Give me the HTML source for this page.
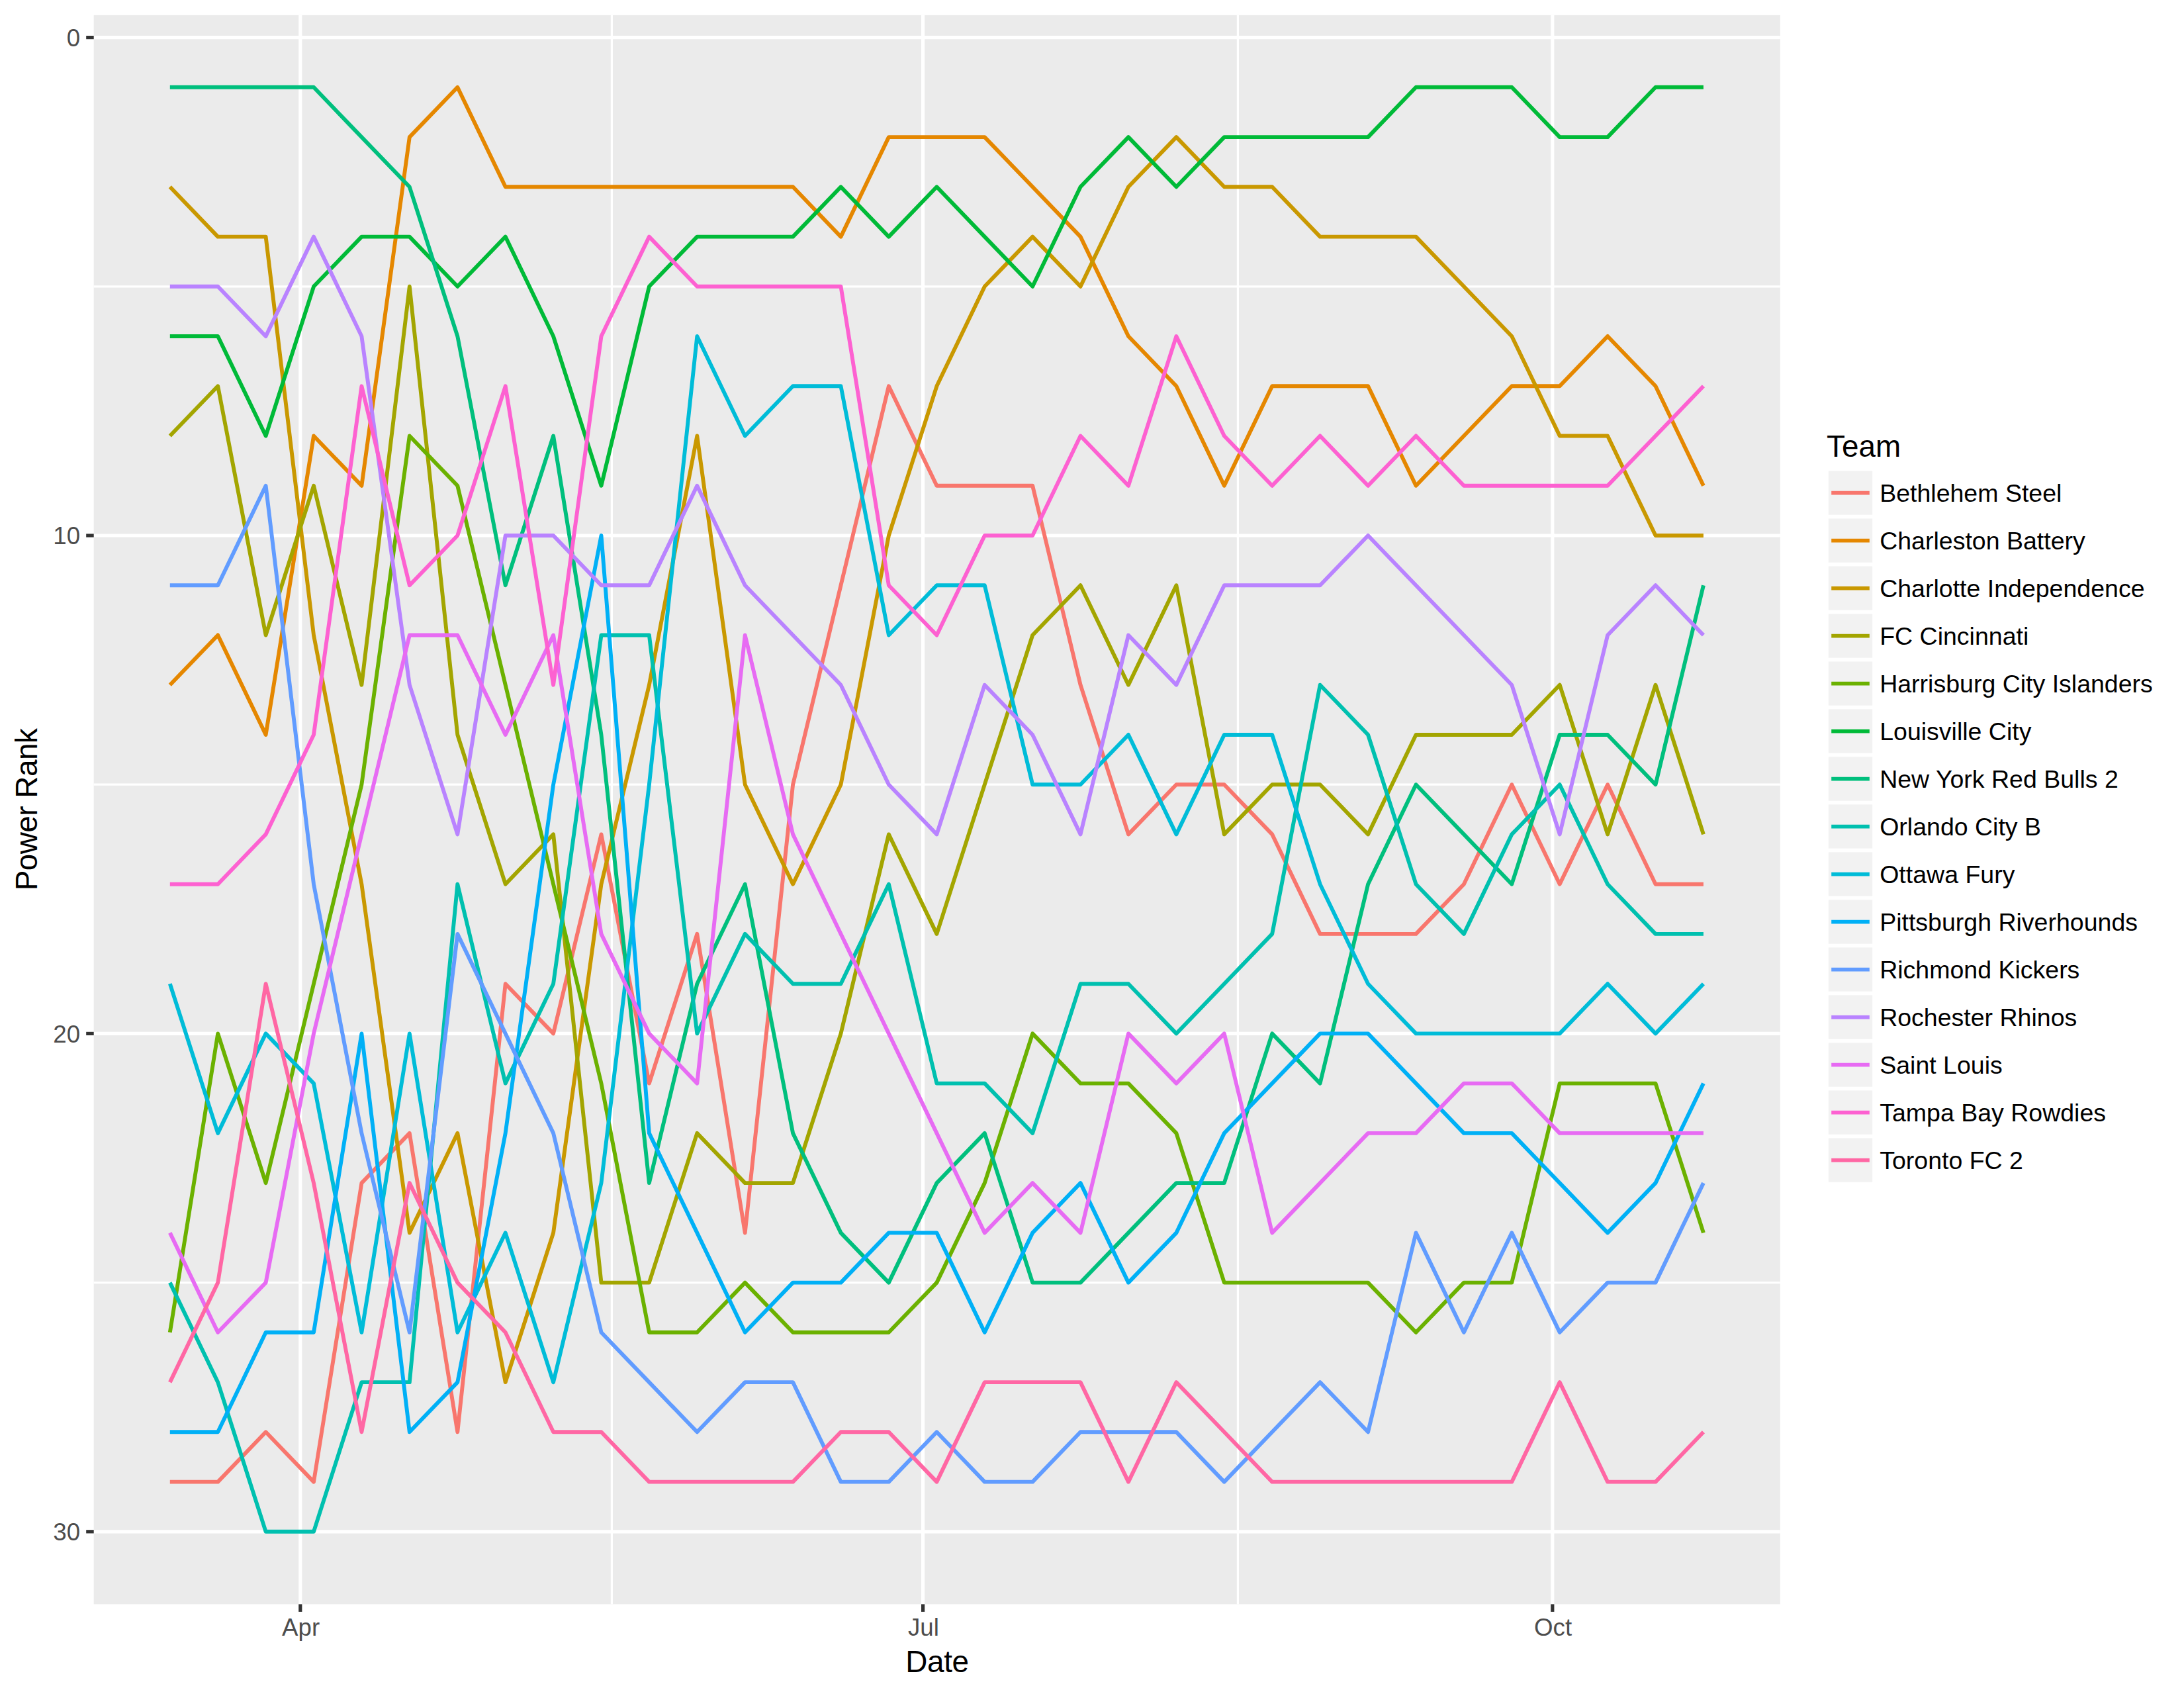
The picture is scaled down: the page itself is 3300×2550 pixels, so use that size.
<!DOCTYPE html>
<html><head><meta charset="utf-8"><title>Power Rank</title>
<style>html,body{margin:0;padding:0;background:#fff}svg{display:block}</style></head>
<body>
<svg width="3300" height="2550" viewBox="0 0 3300 2550" font-family='"Liberation Sans", Arial, Helvetica, sans-serif'>
<rect width="3300" height="2550" fill="#fff"/>
<rect x="141.7" y="22.9" width="2548.2" height="2400.5" fill="#EBEBEB"/>
<g stroke="#fff" stroke-width="3.2">
<line x1="141.7" x2="2689.9" y1="432.80" y2="432.80"/>
<line x1="141.7" x2="2689.9" y1="1185.20" y2="1185.20"/>
<line x1="141.7" x2="2689.9" y1="1937.60" y2="1937.60"/>
<line x1="924.4" x2="924.4" y1="22.9" y2="2423.4"/>
<line x1="1870.4" x2="1870.4" y1="22.9" y2="2423.4"/>
</g>
<g stroke="#fff" stroke-width="5.2">
<line x1="141.7" x2="2689.9" y1="56.60" y2="56.60"/>
<line x1="141.7" x2="2689.9" y1="809.00" y2="809.00"/>
<line x1="141.7" x2="2689.9" y1="1561.40" y2="1561.40"/>
<line x1="141.7" x2="2689.9" y1="2313.80" y2="2313.80"/>
<line x1="453.8" x2="453.8" y1="22.9" y2="2423.4"/>
<line x1="1394.6" x2="1394.6" y1="22.9" y2="2423.4"/>
<line x1="2345.8" x2="2345.8" y1="22.9" y2="2423.4"/>
</g>
<g fill="none" stroke-width="5.9" stroke-linejoin="round" stroke-linecap="butt">
<polyline stroke="#F8766D" points="256.8,2238.6 329.2,2238.6 401.6,2163.3 474.0,2238.6 546.4,1787.1 618.8,1711.9 691.3,2163.3 763.7,1486.2 836.1,1561.4 908.5,1260.4 980.9,1636.6 1053.3,1410.9 1125.7,1862.4 1198.1,1185.2 1270.5,884.2 1342.9,583.3 1415.4,733.8 1487.8,733.8 1560.2,733.8 1632.6,1034.7 1705.0,1260.4 1777.4,1185.2 1849.8,1185.2 1922.2,1260.4 1994.6,1410.9 2067.1,1410.9 2139.5,1410.9 2211.9,1335.7 2284.3,1185.2 2356.7,1335.7 2429.1,1185.2 2501.5,1335.7 2573.9,1335.7"/>
<polyline stroke="#E58700" points="256.8,1034.7 329.2,959.5 401.6,1110.0 474.0,658.5 546.4,733.8 618.8,207.1 691.3,131.8 763.7,282.3 836.1,282.3 908.5,282.3 980.9,282.3 1053.3,282.3 1125.7,282.3 1198.1,282.3 1270.5,357.6 1342.9,207.1 1415.4,207.1 1487.8,207.1 1560.2,282.3 1632.6,357.6 1705.0,508.0 1777.4,583.3 1849.8,733.8 1922.2,583.3 1994.6,583.3 2067.1,583.3 2139.5,733.8 2211.9,658.5 2284.3,583.3 2356.7,583.3 2429.1,508.0 2501.5,583.3 2573.9,733.8"/>
<polyline stroke="#C99800" points="256.8,282.3 329.2,357.6 401.6,357.6 474.0,959.5 546.4,1335.7 618.8,1862.4 691.3,1711.9 763.7,2088.1 836.1,1862.4 908.5,1335.7 980.9,1034.7 1053.3,658.5 1125.7,1185.2 1198.1,1335.7 1270.5,1185.2 1342.9,809.0 1415.4,583.3 1487.8,432.8 1560.2,357.6 1632.6,432.8 1705.0,282.3 1777.4,207.1 1849.8,282.3 1922.2,282.3 1994.6,357.6 2067.1,357.6 2139.5,357.6 2211.9,432.8 2284.3,508.0 2356.7,658.5 2429.1,658.5 2501.5,809.0 2573.9,809.0"/>
<polyline stroke="#A3A500" points="256.8,658.5 329.2,583.3 401.6,959.5 474.0,733.8 546.4,1034.7 618.8,432.8 691.3,1110.0 763.7,1335.7 836.1,1260.4 908.5,1937.6 980.9,1937.6 1053.3,1711.9 1125.7,1787.1 1198.1,1787.1 1270.5,1561.4 1342.9,1260.4 1415.4,1410.9 1487.8,1185.2 1560.2,959.5 1632.6,884.2 1705.0,1034.7 1777.4,884.2 1849.8,1260.4 1922.2,1185.2 1994.6,1185.2 2067.1,1260.4 2139.5,1110.0 2211.9,1110.0 2284.3,1110.0 2356.7,1034.7 2429.1,1260.4 2501.5,1034.7 2573.9,1260.4"/>
<polyline stroke="#6BB100" points="256.8,2012.8 329.2,1561.4 401.6,1787.1 474.0,1486.2 546.4,1185.2 618.8,658.5 691.3,733.8 763.7,1034.7 836.1,1335.7 908.5,1636.6 980.9,2012.8 1053.3,2012.8 1125.7,1937.6 1198.1,2012.8 1270.5,2012.8 1342.9,2012.8 1415.4,1937.6 1487.8,1787.1 1560.2,1561.4 1632.6,1636.6 1705.0,1636.6 1777.4,1711.9 1849.8,1937.6 1922.2,1937.6 1994.6,1937.6 2067.1,1937.6 2139.5,2012.8 2211.9,1937.6 2284.3,1937.6 2356.7,1636.6 2429.1,1636.6 2501.5,1636.6 2573.9,1862.4"/>
<polyline stroke="#00BA38" points="256.8,508.0 329.2,508.0 401.6,658.5 474.0,432.8 546.4,357.6 618.8,357.6 691.3,432.8 763.7,357.6 836.1,508.0 908.5,733.8 980.9,432.8 1053.3,357.6 1125.7,357.6 1198.1,357.6 1270.5,282.3 1342.9,357.6 1415.4,282.3 1487.8,357.6 1560.2,432.8 1632.6,282.3 1705.0,207.1 1777.4,282.3 1849.8,207.1 1922.2,207.1 1994.6,207.1 2067.1,207.1 2139.5,131.8 2211.9,131.8 2284.3,131.8 2356.7,207.1 2429.1,207.1 2501.5,131.8 2573.9,131.8"/>
<polyline stroke="#00BF7D" points="256.8,131.8 329.2,131.8 401.6,131.8 474.0,131.8 546.4,207.1 618.8,282.3 691.3,508.0 763.7,884.2 836.1,658.5 908.5,1110.0 980.9,1787.1 1053.3,1486.2 1125.7,1335.7 1198.1,1711.9 1270.5,1862.4 1342.9,1937.6 1415.4,1787.1 1487.8,1711.9 1560.2,1937.6 1632.6,1937.6 1705.0,1862.4 1777.4,1787.1 1849.8,1787.1 1922.2,1561.4 1994.6,1636.6 2067.1,1335.7 2139.5,1185.2 2211.9,1260.4 2284.3,1335.7 2356.7,1110.0 2429.1,1110.0 2501.5,1185.2 2573.9,884.2"/>
<polyline stroke="#00C0AF" points="256.8,1937.6 329.2,2088.1 401.6,2313.8 474.0,2313.8 546.4,2088.1 618.8,2088.1 691.3,1335.7 763.7,1636.6 836.1,1486.2 908.5,959.5 980.9,959.5 1053.3,1561.4 1125.7,1410.9 1198.1,1486.2 1270.5,1486.2 1342.9,1335.7 1415.4,1636.6 1487.8,1636.6 1560.2,1711.9 1632.6,1486.2 1705.0,1486.2 1777.4,1561.4 1849.8,1486.2 1922.2,1410.9 1994.6,1034.7 2067.1,1110.0 2139.5,1335.7 2211.9,1410.9 2284.3,1260.4 2356.7,1185.2 2429.1,1335.7 2501.5,1410.9 2573.9,1410.9"/>
<polyline stroke="#00BCD8" points="256.8,1486.2 329.2,1711.9 401.6,1561.4 474.0,1636.6 546.4,2012.8 618.8,1561.4 691.3,2012.8 763.7,1862.4 836.1,2088.1 908.5,1787.1 980.9,1185.2 1053.3,508.0 1125.7,658.5 1198.1,583.3 1270.5,583.3 1342.9,959.5 1415.4,884.2 1487.8,884.2 1560.2,1185.2 1632.6,1185.2 1705.0,1110.0 1777.4,1260.4 1849.8,1110.0 1922.2,1110.0 1994.6,1335.7 2067.1,1486.2 2139.5,1561.4 2211.9,1561.4 2284.3,1561.4 2356.7,1561.4 2429.1,1486.2 2501.5,1561.4 2573.9,1486.2"/>
<polyline stroke="#00B0F6" points="256.8,2163.3 329.2,2163.3 401.6,2012.8 474.0,2012.8 546.4,1561.4 618.8,2163.3 691.3,2088.1 763.7,1711.9 836.1,1185.2 908.5,809.0 980.9,1711.9 1053.3,1862.4 1125.7,2012.8 1198.1,1937.6 1270.5,1937.6 1342.9,1862.4 1415.4,1862.4 1487.8,2012.8 1560.2,1862.4 1632.6,1787.1 1705.0,1937.6 1777.4,1862.4 1849.8,1711.9 1922.2,1636.6 1994.6,1561.4 2067.1,1561.4 2139.5,1636.6 2211.9,1711.9 2284.3,1711.9 2356.7,1787.1 2429.1,1862.4 2501.5,1787.1 2573.9,1636.6"/>
<polyline stroke="#619CFF" points="256.8,884.2 329.2,884.2 401.6,733.8 474.0,1335.7 546.4,1711.9 618.8,2012.8 691.3,1410.9 763.7,1561.4 836.1,1711.9 908.5,2012.8 980.9,2088.1 1053.3,2163.3 1125.7,2088.1 1198.1,2088.1 1270.5,2238.6 1342.9,2238.6 1415.4,2163.3 1487.8,2238.6 1560.2,2238.6 1632.6,2163.3 1705.0,2163.3 1777.4,2163.3 1849.8,2238.6 1922.2,2163.3 1994.6,2088.1 2067.1,2163.3 2139.5,1862.4 2211.9,2012.8 2284.3,1862.4 2356.7,2012.8 2429.1,1937.6 2501.5,1937.6 2573.9,1787.1"/>
<polyline stroke="#B983FF" points="256.8,432.8 329.2,432.8 401.6,508.0 474.0,357.6 546.4,508.0 618.8,1034.7 691.3,1260.4 763.7,809.0 836.1,809.0 908.5,884.2 980.9,884.2 1053.3,733.8 1125.7,884.2 1198.1,959.5 1270.5,1034.7 1342.9,1185.2 1415.4,1260.4 1487.8,1034.7 1560.2,1110.0 1632.6,1260.4 1705.0,959.5 1777.4,1034.7 1849.8,884.2 1922.2,884.2 1994.6,884.2 2067.1,809.0 2139.5,884.2 2211.9,959.5 2284.3,1034.7 2356.7,1260.4 2429.1,959.5 2501.5,884.2 2573.9,959.5"/>
<polyline stroke="#E76BF3" points="256.8,1862.4 329.2,2012.8 401.6,1937.6 474.0,1561.4 546.4,1260.4 618.8,959.5 691.3,959.5 763.7,1110.0 836.1,959.5 908.5,1410.9 980.9,1561.4 1053.3,1636.6 1125.7,959.5 1198.1,1260.4 1270.5,1410.9 1342.9,1561.4 1415.4,1711.9 1487.8,1862.4 1560.2,1787.1 1632.6,1862.4 1705.0,1561.4 1777.4,1636.6 1849.8,1561.4 1922.2,1862.4 1994.6,1787.1 2067.1,1711.9 2139.5,1711.9 2211.9,1636.6 2284.3,1636.6 2356.7,1711.9 2429.1,1711.9 2501.5,1711.9 2573.9,1711.9"/>
<polyline stroke="#FD61D1" points="256.8,1335.7 329.2,1335.7 401.6,1260.4 474.0,1110.0 546.4,583.3 618.8,884.2 691.3,809.0 763.7,583.3 836.1,1034.7 908.5,508.0 980.9,357.6 1053.3,432.8 1125.7,432.8 1198.1,432.8 1270.5,432.8 1342.9,884.2 1415.4,959.5 1487.8,809.0 1560.2,809.0 1632.6,658.5 1705.0,733.8 1777.4,508.0 1849.8,658.5 1922.2,733.8 1994.6,658.5 2067.1,733.8 2139.5,658.5 2211.9,733.8 2284.3,733.8 2356.7,733.8 2429.1,733.8 2501.5,658.5 2573.9,583.3"/>
<polyline stroke="#FF67A4" points="256.8,2088.1 329.2,1937.6 401.6,1486.2 474.0,1787.1 546.4,2163.3 618.8,1787.1 691.3,1937.6 763.7,2012.8 836.1,2163.3 908.5,2163.3 980.9,2238.6 1053.3,2238.6 1125.7,2238.6 1198.1,2238.6 1270.5,2163.3 1342.9,2163.3 1415.4,2238.6 1487.8,2088.1 1560.2,2088.1 1632.6,2088.1 1705.0,2238.6 1777.4,2088.1 1849.8,2163.3 1922.2,2238.6 1994.6,2238.6 2067.1,2238.6 2139.5,2238.6 2211.9,2238.6 2284.3,2238.6 2356.7,2088.1 2429.1,2238.6 2501.5,2238.6 2573.9,2163.3"/>
</g>
<g stroke="#333" stroke-width="5.2">
<line x1="130.2" x2="141.7" y1="56.60" y2="56.60"/>
<line x1="130.2" x2="141.7" y1="809.00" y2="809.00"/>
<line x1="130.2" x2="141.7" y1="1561.40" y2="1561.40"/>
<line x1="130.2" x2="141.7" y1="2313.80" y2="2313.80"/>
<line x1="453.8" x2="453.8" y1="2423.4" y2="2434.9"/>
<line x1="1394.6" x2="1394.6" y1="2423.4" y2="2434.9"/>
<line x1="2345.8" x2="2345.8" y1="2423.4" y2="2434.9"/>
</g>
<g fill="#4D4D4D" font-size="36.67">
<text x="121.1" y="69.7" text-anchor="end">0</text>
<text x="121.1" y="822.1" text-anchor="end">10</text>
<text x="121.1" y="1574.5" text-anchor="end">20</text>
<text x="121.1" y="2326.9" text-anchor="end">30</text>
<text x="454.6" y="2471" text-anchor="middle">Apr</text>
<text x="1395.3999999999999" y="2471" text-anchor="middle">Jul</text>
<text x="2346.6000000000004" y="2471" text-anchor="middle">Oct</text>
</g>
<g fill="#000" font-size="45.83">
<text x="1416" y="2526.3" text-anchor="middle" letter-spacing="-0.35">Date</text>
<text transform="translate(55.6,1223) rotate(-90)" text-anchor="middle" letter-spacing="-0.5">Power Rank</text>
<text x="2760" y="690">Team</text>
</g>
<g>
<rect x="2760" y="708.6" width="72" height="72" fill="#F2F2F2" stroke="#fff" stroke-width="5.6"/>
<rect x="2760" y="780.6" width="72" height="72" fill="#F2F2F2" stroke="#fff" stroke-width="5.6"/>
<rect x="2760" y="852.6" width="72" height="72" fill="#F2F2F2" stroke="#fff" stroke-width="5.6"/>
<rect x="2760" y="924.6" width="72" height="72" fill="#F2F2F2" stroke="#fff" stroke-width="5.6"/>
<rect x="2760" y="996.6" width="72" height="72" fill="#F2F2F2" stroke="#fff" stroke-width="5.6"/>
<rect x="2760" y="1068.6" width="72" height="72" fill="#F2F2F2" stroke="#fff" stroke-width="5.6"/>
<rect x="2760" y="1140.6" width="72" height="72" fill="#F2F2F2" stroke="#fff" stroke-width="5.6"/>
<rect x="2760" y="1212.6" width="72" height="72" fill="#F2F2F2" stroke="#fff" stroke-width="5.6"/>
<rect x="2760" y="1284.6" width="72" height="72" fill="#F2F2F2" stroke="#fff" stroke-width="5.6"/>
<rect x="2760" y="1356.6" width="72" height="72" fill="#F2F2F2" stroke="#fff" stroke-width="5.6"/>
<rect x="2760" y="1428.6" width="72" height="72" fill="#F2F2F2" stroke="#fff" stroke-width="5.6"/>
<rect x="2760" y="1500.6" width="72" height="72" fill="#F2F2F2" stroke="#fff" stroke-width="5.6"/>
<rect x="2760" y="1572.6" width="72" height="72" fill="#F2F2F2" stroke="#fff" stroke-width="5.6"/>
<rect x="2760" y="1644.6" width="72" height="72" fill="#F2F2F2" stroke="#fff" stroke-width="5.6"/>
<rect x="2760" y="1716.6" width="72" height="72" fill="#F2F2F2" stroke="#fff" stroke-width="5.6"/>
<line x1="2767.2" x2="2824.8" y1="744.6" y2="744.6" stroke="#F8766D" stroke-width="5.9"/>
<line x1="2767.2" x2="2824.8" y1="816.6" y2="816.6" stroke="#E58700" stroke-width="5.9"/>
<line x1="2767.2" x2="2824.8" y1="888.6" y2="888.6" stroke="#C99800" stroke-width="5.9"/>
<line x1="2767.2" x2="2824.8" y1="960.6" y2="960.6" stroke="#A3A500" stroke-width="5.9"/>
<line x1="2767.2" x2="2824.8" y1="1032.6" y2="1032.6" stroke="#6BB100" stroke-width="5.9"/>
<line x1="2767.2" x2="2824.8" y1="1104.6" y2="1104.6" stroke="#00BA38" stroke-width="5.9"/>
<line x1="2767.2" x2="2824.8" y1="1176.6" y2="1176.6" stroke="#00BF7D" stroke-width="5.9"/>
<line x1="2767.2" x2="2824.8" y1="1248.6" y2="1248.6" stroke="#00C0AF" stroke-width="5.9"/>
<line x1="2767.2" x2="2824.8" y1="1320.6" y2="1320.6" stroke="#00BCD8" stroke-width="5.9"/>
<line x1="2767.2" x2="2824.8" y1="1392.6" y2="1392.6" stroke="#00B0F6" stroke-width="5.9"/>
<line x1="2767.2" x2="2824.8" y1="1464.6" y2="1464.6" stroke="#619CFF" stroke-width="5.9"/>
<line x1="2767.2" x2="2824.8" y1="1536.6" y2="1536.6" stroke="#B983FF" stroke-width="5.9"/>
<line x1="2767.2" x2="2824.8" y1="1608.6" y2="1608.6" stroke="#E76BF3" stroke-width="5.9"/>
<line x1="2767.2" x2="2824.8" y1="1680.6" y2="1680.6" stroke="#FD61D1" stroke-width="5.9"/>
<line x1="2767.2" x2="2824.8" y1="1752.6" y2="1752.6" stroke="#FF67A4" stroke-width="5.9"/>
</g>
<g fill="#000" font-size="37.5">
<text x="2840.2" y="757.9">Bethlehem Steel</text>
<text x="2840.2" y="829.9">Charleston Battery</text>
<text x="2840.2" y="901.9">Charlotte Independence</text>
<text x="2840.2" y="973.9">FC Cincinnati</text>
<text x="2840.2" y="1045.9">Harrisburg City Islanders</text>
<text x="2840.2" y="1117.9">Louisville City</text>
<text x="2840.2" y="1189.9">New York Red Bulls 2</text>
<text x="2840.2" y="1261.9">Orlando City B</text>
<text x="2840.2" y="1333.9">Ottawa Fury</text>
<text x="2840.2" y="1405.9">Pittsburgh Riverhounds</text>
<text x="2840.2" y="1477.9">Richmond Kickers</text>
<text x="2840.2" y="1549.9">Rochester Rhinos</text>
<text x="2840.2" y="1621.9">Saint Louis</text>
<text x="2840.2" y="1693.9">Tampa Bay Rowdies</text>
<text x="2840.2" y="1765.9">Toronto FC 2</text>
</g>
</svg>
</body></html>
